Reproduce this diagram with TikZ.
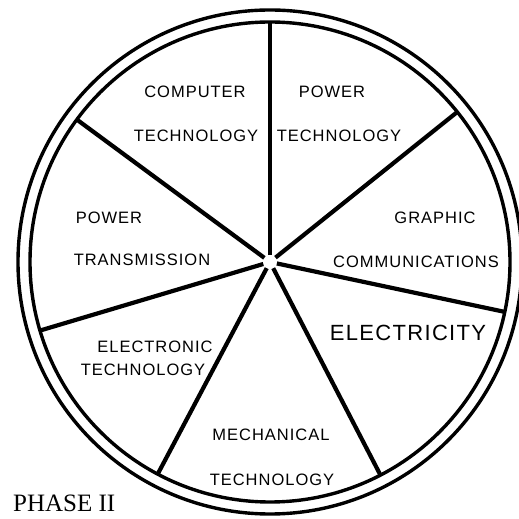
\documentclass[tikz,border=0pt]{standalone}
\usepackage{fontspec}
\usetikzlibrary{calc}
\newfontfamily\wheelfont[LetterSpace=6]{Liberation Sans}
\newfontfamily\phasefont{Liberation Serif}

\begin{document}
\begin{tikzpicture}[x=1pt,y=1pt,
    rim/.style={line width=3.4pt},
    spoke/.style={line width=4.2pt, shorten <=7pt},
    area/.style={font=\wheelfont\fontsize{16.5}{16.5}\selectfont, inner sep=0pt},
    bigarea/.style={font=\wheelfont\fontsize{22}{22}\selectfont, inner sep=0pt}]
    \useasboundingbox (0,0) rectangle (519,519);
    \coordinate (hub) at (270,257);
    \draw[rim] (hub) circle (252); \draw[rim] (hub) circle (240);
    \foreach \a [count=\i] in {90,38.7,-12,-62.6,-117.9,-163.4,143.6}
    {\coordinate (r\i) at ($(hub)+(\a:240)$); \draw[spoke] (hub) -- (r\i);}
    \node[area] (CT1) at (195,427) {COMPUTER};
    \node[area] (CT2) at (196,383) {TECHNOLOGY};
    \node[area] (PT1) at (332,427) {POWER};
    \node[area] (PT2) at (339,383) {TECHNOLOGY};
    \node[area] (PM1) at (109,301) {POWER};
    \node[area] (PM2) at (142,259) {TRANSMISSION};
    \node[area] (GC1) at (435,301) {GRAPHIC};
    \node[area] (GC2) at (416,257) {COMMUNICATIONS};
    \node[bigarea] (EL) at (408,186) {ELECTRICITY};
    \node[area] (ET1) at (155,172) {ELECTRONIC};
    \node[area] (ET2) at (143,149) {TECHNOLOGY};
    \node[area] (MT1) at (271,84) {MECHANICAL};
    \node[area] (MT2) at (272,39) {TECHNOLOGY};
    \node[font=\phasefont\fontsize{25}{25}\selectfont, inner sep=0pt,
    anchor=base west] (PH) at (13,7) {PHASE II};
  \end{tikzpicture}
\end{document}
